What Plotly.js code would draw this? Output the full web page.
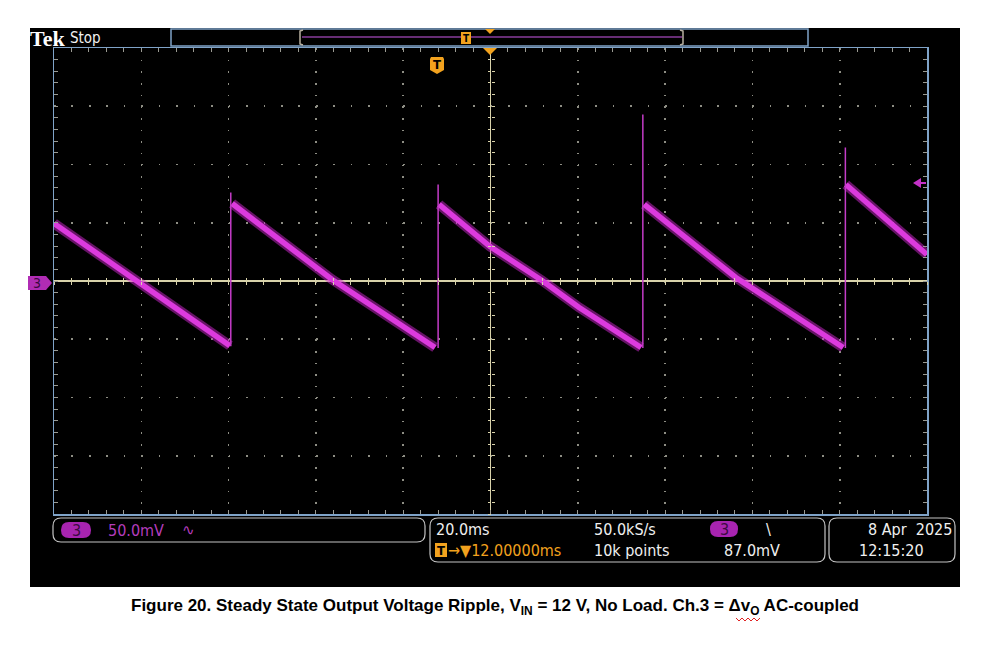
<!DOCTYPE html>
<html><head><meta charset="utf-8">
<script src="https://cdn.plot.ly/plotly-3.0.1.min.js"></script>
<style>html,body{margin:0;padding:0;background:#fff;}#chart{width:1000px;height:654px;}</style>
</head><body><div id="chart"></div>
<script>
// ---- Data: time in ms (0 = screen centre), Ch.3 voltage in mV ----
const ramp1Time = [-100, -81.4, -59.7];
const ramp1Volt = [49.4, 1.3, -55.5];
const ramp2Time = [-59.2, -36.3, -12.7];
const ramp2Volt = [66.5, 1.3, -57.1];
const ramp3Time = [-11.8, -0.1, 11.8, 20.3, 34.5];
const ramp3Volt = [65.7, 29.6, 0.4, -22.7, -57.1];
const ramp4Time = [35.2, 43.2, 56.2, 80.8];
const ramp4Volt = [65.7, 41.6, 3.0, -57.1];
const ramp5Time = [81.4, 100];
const ramp5Volt = [82.8, 22.7];
const jumpTime = [-59.5, -12.0, 34.9, 81.3];
const jumpLow  = [-56.0, -57.5, -57.5, -57.5];
const jumpHigh = [76.0, 82.8, 142.9, 114.6];
const timeRange = [-100, 100];   // 10 div x 20.0 ms
const voltRange = [-200, 200];   // 8 div x 50.0 mV

// build segments
const rampsT = [ramp1Time, ramp2Time, ramp3Time, ramp4Time, ramp5Time];
const rampsV = [ramp1Volt, ramp2Volt, ramp3Volt, ramp4Volt, ramp5Volt];
const rx = [], ry = [];
rampsT.forEach((t, i) => { rx.push(...t, null); ry.push(...rampsV[i], null); });
const jx = [], jy = [];
jumpTime.forEach((t, i) => { jx.push(t, t, null); jy.push(jumpLow[i], jumpHigh[i], null); });

// ---- pixel helpers for decorations ----
const L = 54, R = 927, T = 48, B = 514;
const X = p => (p - L) / (R - L);
const Y = p => (B - p) / (B - T);
const P = (x, y) => X(x).toFixed(5) + ',' + Y(y).toFixed(5);
function rr(x0, y0, x1, y1, r) {
  return `M${P(x0 + r, y0)} L${P(x1 - r, y0)} Q${P(x1, y0)} ${P(x1, y0 + r)} L${P(x1, y1 - r)} Q${P(x1, y1)} ${P(x1 - r, y1)} L${P(x0 + r, y1)} Q${P(x0, y1)} ${P(x0, y1 - r)} L${P(x0, y0 + r)} Q${P(x0, y0)} ${P(x0 + r, y0)} Z`;
}
function poly(pts) { return 'M' + pts.map(p => P(p[0], p[1])).join(' L') + ' Z'; }
function line(pts) { return 'M' + pts.map(p => P(p[0], p[1])).join(' L'); }

const FONT = 'DejaVu Sans Condensed, DejaVu Sans, sans-serif';
const ORANGE = '#f2a21e', PURPLE = '#a824b0', BORDER = '#7fa3c8', CREAM = '#d8d2aa', GRID = '#8e8e84';

const shapes = [
  {type:'rect', xref:'paper', yref:'paper', x0:X(30), x1:X(960), y0:Y(587), y1:Y(28), fillcolor:'#000', line:{width:0}, layer:'below'},
  // record view bar
  {type:'rect', xref:'paper', yref:'paper', x0:X(171), x1:X(808), y0:Y(46), y1:Y(29), fillcolor:'#000', line:{color:BORDER, width:1.5}},
  {type:'path', xref:'paper', yref:'paper', path:line([[302,37],[682,37]]), line:{color:'#8a3c9c', width:1.5}},
  {type:'path', xref:'paper', yref:'paper', path:line([[303,30],[300,31],[300,44],[303,45]]), line:{color:'#b8b0a0', width:1.5}},
  {type:'path', xref:'paper', yref:'paper', path:line([[680,30],[683,31],[683,44],[680,45]]), line:{color:'#b8b0a0', width:1.5}},
  {type:'rect', xref:'paper', yref:'paper', x0:X(461), x1:X(471), y0:Y(44), y1:Y(32), fillcolor:ORANGE, line:{width:0}},
  {type:'path', xref:'paper', yref:'paper', path:poly([[485,29],[495,29],[490,34]]), fillcolor:ORANGE, line:{width:0}},
  {type:'path', xref:'paper', yref:'paper', path:poly([[483,48],[497,48],[490,55]]), fillcolor:ORANGE, line:{width:0}},
  // trigger position marker
  {type:'path', xref:'paper', yref:'paper', path:poly([[431,57],[443,57],[444,59],[444,70],[437,74],[430,70],[430,59]]), fillcolor:ORANGE, line:{width:0}},
  // channel 3 marker
  {type:'path', xref:'paper', yref:'paper', path:poly([[28,276],[46,276],[52,283],[46,290],[28,290]]), fillcolor:'#b02cb4', line:{width:0}},
  // trigger level arrow
  {type:'path', xref:'paper', yref:'paper', path:poly([[913,183],[921,178],[921,188]]), fillcolor:'#c432c8', line:{width:0}},
  {type:'path', xref:'paper', yref:'paper', path:line([[920,183],[926,183]]), line:{color:'#c432c8', width:2}},
  // bottom readout boxes
  {type:'path', xref:'paper', yref:'paper', path:rr(53,518,425,542,8), line:{color:'#c4c4c4', width:1.2}},
  {type:'path', xref:'paper', yref:'paper', path:rr(430,518,825,562,8), line:{color:'#c4c4c4', width:1.2}},
  {type:'path', xref:'paper', yref:'paper', path:rr(829,518,955,562,8), line:{color:'#c4c4c4', width:1.2}},
  {type:'path', xref:'paper', yref:'paper', path:rr(61,522,91,538,8), fillcolor:PURPLE, line:{width:0}},
  {type:'path', xref:'paper', yref:'paper', path:rr(710,521,738,537,8), fillcolor:PURPLE, line:{width:0}},
  {type:'rect', xref:'paper', yref:'paper', x0:X(435), x1:X(447), y0:Y(557), y1:Y(543), fillcolor:ORANGE, line:{width:0}},
];
// red spell-check squiggle under v_O in caption
const sq = []; for (let i = 0; i <= 8; i++) sq.push([736 + i * 3, i % 2 ? 621 : 618]);
shapes.push({type:'path', xref:'paper', yref:'paper', path:line(sq), line:{color:'#e02020', width:1}});

function ann(text, x, y, opt) {
  return Object.assign({text, xref:'paper', yref:'paper', x:X(x), y:Y(y), showarrow:false,
    xanchor:'left', yanchor:'middle', font:{family:FONT, size:16, color:'#f0f0f0'}}, opt || {});
}
const annotations = [
  ann('<b>Tek</b>', 28, 38, {font:{family:'Liberation Serif, serif', size:22, color:'#fff'}}),
  ann('Stop', 68, 38, {font:{family:FONT, size:15, color:'#f0f0f0'}}),
  ann('<b>T</b>', 466, 38, {xanchor:'center', font:{family:FONT, size:10, color:'#000'}}),
  ann('<b>T</b>', 437, 64, {xanchor:'center', font:{family:FONT, size:13, color:'#000'}}),
  ann('3', 37, 283, {xanchor:'center', font:{family:FONT, size:14, color:'#3a0a40'}}),
  ann('3', 76, 530, {xanchor:'center', font:{family:FONT, size:16, color:'#3a0a40'}}),
  ann('50.0mV', 106, 530, {font:{family:FONT, size:16, color:'#b43cbc'}}),
  ann('\u223F', 180, 530, {font:{family:'DejaVu Sans', size:15, color:'#b43cbc'}}),
  ann('20.0ms', 434, 529),
  ann('50.0kS/s', 592, 529),
  ann('3', 724, 529, {xanchor:'center', font:{family:FONT, size:16, color:'#3a0a40'}}),
  ann('\\', 764, 529),
  ann('8 Apr\u00a0 2025', 954, 529, {xanchor:'right'}),
  ann('<b>T</b>', 441, 550, {xanchor:'center', font:{family:FONT, size:13, color:'#000'}}),
  ann('\u2192\u25BC12.00000ms', 446, 550, {font:{family:FONT, size:16, color:ORANGE}}),
  ann('10k points', 592, 550),
  ann('87.0mV', 722, 550),
  ann('12:15:20', 857, 550),
  ann('<b>Figure 20. Steady State Output Voltage Ripple, V<sub>IN</sub> = 12 V, No Load. Ch.3 = \u0394v<sub>O</sub> AC-coupled</b>',
      495, 607, {xanchor:'center', font:{family:'Liberation Sans, Arial, sans-serif', size:17, color:'#000'}}),
];

const baseAxis = {showticklabels:false, fixedrange:true};
const layout = {
  width:1000, height:654,
  margin:{l:L, r:1000 - R, t:T, b:654 - B, pad:0},
  paper_bgcolor:'#fff', plot_bgcolor:'#000',
  showlegend:false, hovermode:false,
  xaxis:Object.assign({}, baseAxis, {range:timeRange, dtick:20, tick0:0,
    showgrid:true, gridcolor:GRID, gridwidth:1.6, griddash:'1.6px,10.05px',
    zeroline:true, zerolinecolor:CREAM, zerolinewidth:1.5,
    showline:true, linecolor:BORDER, linewidth:1.5, mirror:'allticks',
    ticks:'inside', ticklen:4, tickcolor:'#9a9a92', tickwidth:1,
    minor:{dtick:4, ticks:'inside', ticklen:4, tickcolor:'#9a9a92', showgrid:false}}),
  yaxis:Object.assign({}, baseAxis, {range:voltRange, dtick:50, tick0:0,
    showgrid:true, gridcolor:GRID, gridwidth:1.6, griddash:'1.6px,15.86px',
    zeroline:true, zerolinecolor:CREAM, zerolinewidth:1.5,
    showline:true, linecolor:BORDER, linewidth:1.5, mirror:'allticks',
    ticks:'inside', ticklen:4, tickcolor:'#9a9a92', tickwidth:1,
    minor:{dtick:10, ticks:'inside', ticklen:4, tickcolor:'#9a9a92', showgrid:false}}),
  xaxis2:Object.assign({}, baseAxis, {range:timeRange, overlaying:'x', anchor:'free', position:0.5, side:'bottom',
    ticks:'outside', ticklen:3, dtick:4, tick0:0, tickcolor:CREAM, showgrid:false, zeroline:false, showline:false}),
  xaxis3:Object.assign({}, baseAxis, {range:timeRange, overlaying:'x', anchor:'free', position:0.5, side:'bottom',
    ticks:'inside', ticklen:3, dtick:4, tick0:0, tickcolor:CREAM, showgrid:false, zeroline:false, showline:false}),
  yaxis2:Object.assign({}, baseAxis, {range:voltRange, overlaying:'y', anchor:'free', position:0.5, side:'left',
    ticks:'outside', ticklen:3, dtick:10, tick0:0, tickcolor:CREAM, showgrid:false, zeroline:false, showline:false}),
  yaxis3:Object.assign({}, baseAxis, {range:voltRange, overlaying:'y', anchor:'free', position:0.5, side:'left',
    ticks:'inside', ticklen:3, dtick:10, tick0:0, tickcolor:CREAM, showgrid:false, zeroline:false, showline:false}),
  shapes, annotations
};

const traces = [
  {x:rx, y:ry, mode:'lines', line:{color:'rgba(205,40,205,0.5)', width:10}, connectgaps:false},
  {x:rx, y:ry, mode:'lines', line:{color:'#dc3ade', width:5.5}, connectgaps:false},
  {x:jx, y:jy, mode:'lines', line:{color:'#c43cc8', width:1.5}, connectgaps:false},
  {x:[0], y:[0], xaxis:'x2', yaxis:'y2', mode:'markers', marker:{opacity:0}, hoverinfo:'skip'},
  {x:[0], y:[0], xaxis:'x3', yaxis:'y3', mode:'markers', marker:{opacity:0}, hoverinfo:'skip'},
];

Plotly.newPlot('chart', traces, layout, {staticPlot:true, displayModeBar:false});
</script></body></html>
